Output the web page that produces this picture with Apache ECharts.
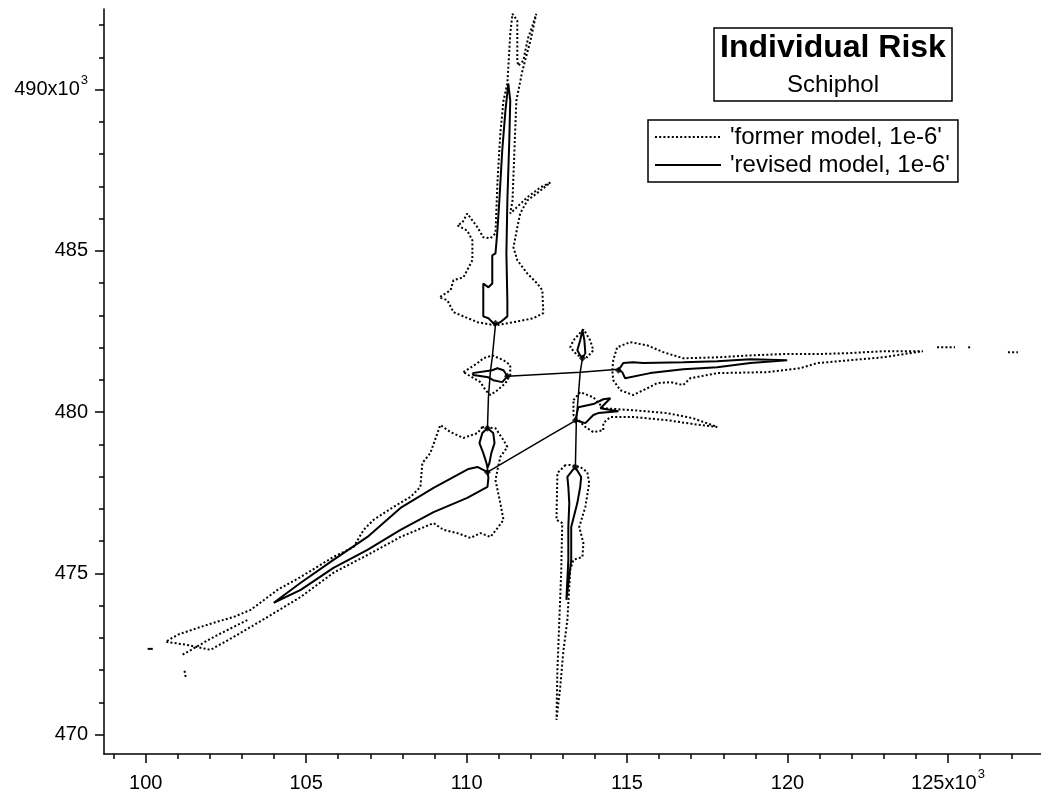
<!DOCTYPE html>
<html><head><meta charset="utf-8">
<script src="https://cdn.jsdelivr.net/npm/echarts@6/dist/echarts.min.js"></script>
<style>html,body{margin:0;padding:0;background:#fff}#chart{width:1041px;height:797px}</style>
</head><body><div id="chart"></div>
<script>
// ---- tick values ----
const xMajorTicks = [100, 105, 110, 115, 120, 125];
const xMinorTicks = [99,100,101,102,103,104,105,106,107,108,109,110,111,112,113,114,115,116,117,118,119,120,121,122,123,124,125,126,127];
const yMajorTicks = [470, 475, 480, 485, 490];
const yMinorTicks = [470,471,472,473,474,475,476,477,478,479,480,481,482,483,484,485,486,487,488,489,490,491,492];

const formerName = "'former model, 1e-6'";
const revisedName = "'revised model, 1e-6'";

// ---- former model (dotted contour pieces), [x(10^3), y(10^3)] ----
const formerNorth = [[110.90,482.69],[110.34,482.79],[109.59,483.10],[109.40,483.47],[109.15,483.56],[109.50,483.78],[109.59,484.09],[109.90,484.18],[110.18,484.71],[110.18,485.33],[110.02,485.63],[109.71,485.79],[109.87,485.88],[110.02,486.16],[110.34,485.73],[110.52,485.42],[110.74,485.39],[110.90,485.54],[110.96,487.09],[111.05,488.64],[111.15,489.66],[111.27,490.19],[111.30,490.68],[111.36,491.73],[111.43,492.35],[111.49,492.41],[111.58,492.14],[111.58,490.90],[111.61,490.74],[111.77,490.90],[111.83,491.21],[111.92,491.61],[112.05,491.98],[112.17,492.35],[111.99,491.52],[111.74,490.59],[111.55,489.66],[111.49,488.11],[111.43,486.56],[111.36,486.16],[111.89,486.66],[112.30,486.97],[112.61,487.12],[112.30,486.87],[111.89,486.56],[111.67,486.16],[111.58,485.73],[111.46,485.11],[111.58,484.71],[111.89,484.30],[112.20,483.99],[112.36,483.78],[112.39,483.07],[112.08,482.91],[111.46,482.79],[110.90,482.69]];
const formerWestNode = [[109.90,481.24],[110.34,481.52],[110.52,481.67],[110.80,481.76],[111.15,481.61],[111.36,481.46],[111.36,481.15],[111.21,480.90],[110.96,480.68],[110.74,480.53],[110.59,480.68],[110.43,480.93],[110.18,481.08],[109.90,481.24]];
const formerSouthwest = [[110.49,479.54],[110.34,479.35],[109.90,479.20],[109.50,479.38],[109.18,479.60],[108.87,478.73],[108.62,478.42],[108.56,477.68],[108.25,477.37],[107.72,477.06],[107.10,476.66],[106.79,476.35],[106.48,475.82],[105.85,475.51],[104.83,474.89],[104.11,474.49],[103.27,473.87],[102.74,473.65],[102.12,473.47],[101.62,473.31],[101.00,473.10],[100.62,472.88],[101.25,472.79],[102.02,472.63],[102.74,473.03],[103.80,473.65],[104.83,474.27],[105.85,475.02],[106.91,475.57],[107.94,476.13],[108.97,476.56],[109.28,476.35],[109.71,476.25],[110.12,476.10],[110.43,476.25],[110.74,476.13],[110.99,476.44],[111.15,476.66],[111.05,477.18],[110.90,477.89],[110.96,478.20],[111.05,478.61],[111.27,478.92],[111.15,479.13],[110.90,479.50],[110.49,479.54]];
const formerTailMid = [[101.15,472.48],[102.12,473.03],[103.18,473.56]];
const formerTailDot = [[101.21,471.98],[101.25,471.76]];
const formerSouthNode = [[113.33,480.37],[113.54,480.62],[113.95,480.46],[114.26,480.12],[115.19,480.06],[116.25,479.97],[117.06,479.81],[117.81,479.54],[117.28,479.60],[116.25,479.75],[115.19,479.85],[114.48,479.85],[114.26,479.66],[114.26,479.44],[113.95,479.38],[113.70,479.54],[113.33,479.91],[113.33,480.37]];
const formerSouthBulb = [[113.64,482.57],[113.33,482.23],[113.23,482.01],[113.45,481.76],[113.76,481.70],[113.95,481.92],[113.85,482.23],[113.70,482.48],[113.64,482.57]];
const formerSouth = [[113.08,478.36],[112.83,478.11],[112.80,476.66],[112.98,476.56],[112.95,475.11],[112.89,473.56],[112.83,472.01],[112.80,470.46],[112.92,471.49],[113.01,472.54],[113.14,473.56],[113.23,475.11],[113.33,475.42],[113.61,475.51],[113.64,475.94],[113.51,476.44],[113.70,477.06],[113.82,477.80],[113.76,478.14],[113.54,478.30],[113.23,478.36],[113.08,478.36]];
const formerEast = [[114.54,481.30],[114.57,481.61],[114.69,482.01],[115.10,482.17],[115.63,482.07],[116.13,481.86],[116.75,481.67],[117.81,481.70],[118.84,481.76],[119.86,481.80],[120.92,481.80],[121.95,481.83],[122.98,481.89],[124.22,481.89],[122.98,481.70],[121.95,481.61],[120.92,481.52],[120.39,481.36],[119.36,481.24],[117.81,481.21],[116.97,481.05],[116.75,480.84],[116.35,480.93],[115.94,480.90],[115.63,480.74],[115.19,480.53],[114.79,480.68],[114.57,480.99],[114.54,481.30]];
const formerEastDash1 = [[124.66,482.01],[125.22,482.01]];
const formerEastDash2 = [[125.63,482.01],[125.75,482.01]];
const formerEastDash3 = [[126.87,481.86],[127.18,481.86]];

// ---- revised model (solid contour pieces) ----
const revisedNorth = [[111.30,490.19],[111.21,489.35],[111.11,488.11],[111.02,486.56],[110.96,485.63],[110.90,484.92],[110.80,484.86],[110.80,483.99],[110.68,483.87],[110.52,483.99],[110.52,482.97],[110.68,482.91],[110.80,482.79],[110.90,482.72],[111.05,482.79],[111.27,482.97],[111.27,483.47],[111.24,484.92],[111.27,486.56],[111.33,488.42],[111.36,489.66],[111.30,490.19]];
const revisedWestNode = [[110.18,481.21],[110.80,481.30],[110.96,481.36],[111.15,481.30],[111.27,481.11],[111.11,480.93],[110.83,480.99],[110.68,481.08],[110.21,481.15],[110.18,481.21]];
const revisedWestDroplet = [[110.65,479.50],[110.49,479.35],[110.40,479.04],[110.52,478.73],[110.62,478.42],[110.65,478.27],[110.71,478.42],[110.77,478.73],[110.87,479.04],[110.83,479.35],[110.65,479.50]];
const revisedSouthwest = [[110.65,478.14],[110.34,478.30],[110.06,478.24],[108.97,477.65],[107.94,477.03],[106.91,476.13],[105.85,475.42],[104.83,474.71],[103.99,474.09],[104.83,474.49],[105.85,475.17],[106.91,475.73],[107.94,476.35],[108.97,476.90],[110.02,477.34],[110.65,477.68],[110.68,477.96],[110.65,478.14]];
const revisedSouthNode = [[113.39,479.75],[113.48,480.15],[113.95,480.25],[114.26,480.40],[114.48,480.43],[114.17,480.12],[114.73,480.03],[114.10,479.97],[113.95,479.91],[113.70,479.66],[113.39,479.75]];
const revisedSouthBulb = [[113.61,482.54],[113.54,482.23],[113.45,481.92],[113.54,481.76],[113.61,481.67],[113.70,481.83],[113.67,482.23],[113.61,482.54]];
const revisedSouth = [[113.36,478.27],[113.14,477.99],[113.17,477.68],[113.20,477.18],[113.17,476.44],[113.17,475.42],[113.11,474.18],[113.26,475.42],[113.26,476.44],[113.45,477.18],[113.54,477.68],[113.57,477.99],[113.42,478.24],[113.36,478.27]];
const revisedEast = [[114.73,481.30],[114.88,481.52],[115.19,481.55],[115.50,481.52],[116.75,481.55],[117.81,481.58],[118.84,481.64],[119.99,481.61],[118.84,481.52],[117.81,481.39],[116.75,481.33],[115.72,481.21],[114.94,481.05],[114.85,481.24],[114.73,481.30]];
const revisedTailDash = [[100.06,472.66],[100.22,472.66]];
// connecting lines between the nodes
const linkWest = [[110.90,482.72],[110.80,481.70],[110.74,481.24],[110.68,480.46],[110.65,479.50]];
const linkDropletToNode = [[110.65,478.27],[110.65,478.14]];
const linkHorizontal = [[111.27,481.11],[113.54,481.24],[114.73,481.33]];
const linkSouth = [[113.61,481.67],[113.54,481.24],[113.42,479.75],[113.39,478.30]];
const linkDiagonal = [[110.65,478.14],[112.61,479.29],[113.42,479.75]];
const nodePoints = [[110.90,482.76],[111.27,481.11],[110.65,479.50],[110.65,478.14],[113.39,479.75],[113.39,478.30],[113.61,481.67],[114.73,481.30]];

const FONT = 'Liberation Sans, Arial, sans-serif';
const formerStyle = {color:'#000', width:2, type:[2, 2.2], cap:'butt'};
const revisedStyle = {color:'#000', width:2};
const linkStyle = {color:'#000', width:1.5};

function lineSeries(name, data, style) {
  return {type:'line', name:name, data:data, symbol:'none', showSymbol:false,
    lineStyle:style, itemStyle:{color:'#000'}, silent:true, animation:false};
}
const series = [];
[formerNorth, formerWestNode, formerSouthwest, formerTailMid, formerTailDot, formerSouthNode,
 formerSouthBulb, formerSouth, formerEast, formerEastDash1, formerEastDash2, formerEastDash3]
  .forEach(d => series.push(lineSeries(formerName, d, formerStyle)));
[revisedNorth, revisedWestNode, revisedWestDroplet, revisedSouthwest, revisedSouthNode,
 revisedSouthBulb, revisedSouth, revisedEast, revisedTailDash]
  .forEach(d => series.push(lineSeries(revisedName, d, revisedStyle)));
[linkWest, linkDropletToNode, linkHorizontal, linkSouth, linkDiagonal]
  .forEach(d => series.push(lineSeries(revisedName, d, linkStyle)));
series.push({type:'scatter', name:revisedName, data:nodePoints, symbol:'diamond', symbolSize:7,
  itemStyle:{color:'#000'}, silent:true, animation:false});

const rich = {
  a: {fontSize:20, lineHeight:33, fontFamily:FONT, color:'#000'},
  s: {fontSize:13, padding:[0,0,18,1], fontFamily:FONT, color:'#000'}
};
const axisLineStyle = {color:'#000', width:1.5};

const option = {
  backgroundColor:'#fff',
  animation:false,
  grid:{left:104, right:0, top:9, bottom:43, containLabel:false},
  title:{
    text:'Individual Risk', subtext:'Schiphol',
    left:827, top:28, textAlign:'center',
    borderColor:'#000', borderWidth:1.5,
    padding:[4,6,4,6], itemGap:9,
    textStyle:{fontFamily:FONT, fontWeight:'bold', fontSize:32, color:'#000'},
    subtextStyle:{fontFamily:FONT, fontSize:24, color:'#000'}
  },
  legend:{
    data:[formerName, revisedName],
    orient:'vertical', left:648, top:120,
    borderColor:'#000', borderWidth:1.5,
    padding:[5,8,5,6], itemGap:4, itemWidth:66, itemHeight:14,
    itemStyle:{color:'rgba(0,0,0,0)', borderColor:'rgba(0,0,0,0)', borderWidth:0, opacity:0},
    textStyle:{fontFamily:FONT, fontSize:24, color:'#000', padding:[0,0,0,4]},
    selectedMode:false
  },
  xAxis:[
    {type:'value', min:98.7, max:127.9, position:'bottom',
     axisLine:{show:true, onZero:false, lineStyle:axisLineStyle},
     axisTick:{show:true, customValues:xMajorTicks, length:9, lineStyle:axisLineStyle},
     axisLabel:{show:true, customValues:xMajorTicks, margin:13, fontSize:20, fontFamily:FONT, color:'#000',
       formatter:function(v){ return v === 125 ? '{a|125x10}{s|3}' : '{a|' + v + '}'; }, rich:rich},
     splitLine:{show:false}},
    {type:'value', min:98.7, max:127.9, position:'bottom',
     axisLine:{show:false, onZero:false},
     axisTick:{show:true, customValues:xMinorTicks, length:5, lineStyle:axisLineStyle},
     axisLabel:{show:false}, splitLine:{show:false}}
  ],
  yAxis:[
    {type:'value', min:469.4, max:492.5, position:'left',
     axisLine:{show:true, onZero:false, lineStyle:axisLineStyle},
     axisTick:{show:true, customValues:yMajorTicks, length:9, lineStyle:axisLineStyle},
     axisLabel:{show:true, customValues:yMajorTicks, margin:16, fontSize:20, fontFamily:FONT, color:'#000',
       formatter:function(v){ return v === 490 ? '{a|490x10}{s|3}' : '{a|' + v + '}'; }, rich:rich},
     splitLine:{show:false}},
    {type:'value', min:469.4, max:492.5, position:'left',
     axisLine:{show:false, onZero:false},
     axisTick:{show:true, customValues:yMinorTicks, length:5, lineStyle:axisLineStyle},
     axisLabel:{show:false}, splitLine:{show:false}}
  ],
  series:series
};
const chart = echarts.init(document.getElementById('chart'), null, {renderer:'canvas'});
chart.setOption(option);
</script></body></html>
